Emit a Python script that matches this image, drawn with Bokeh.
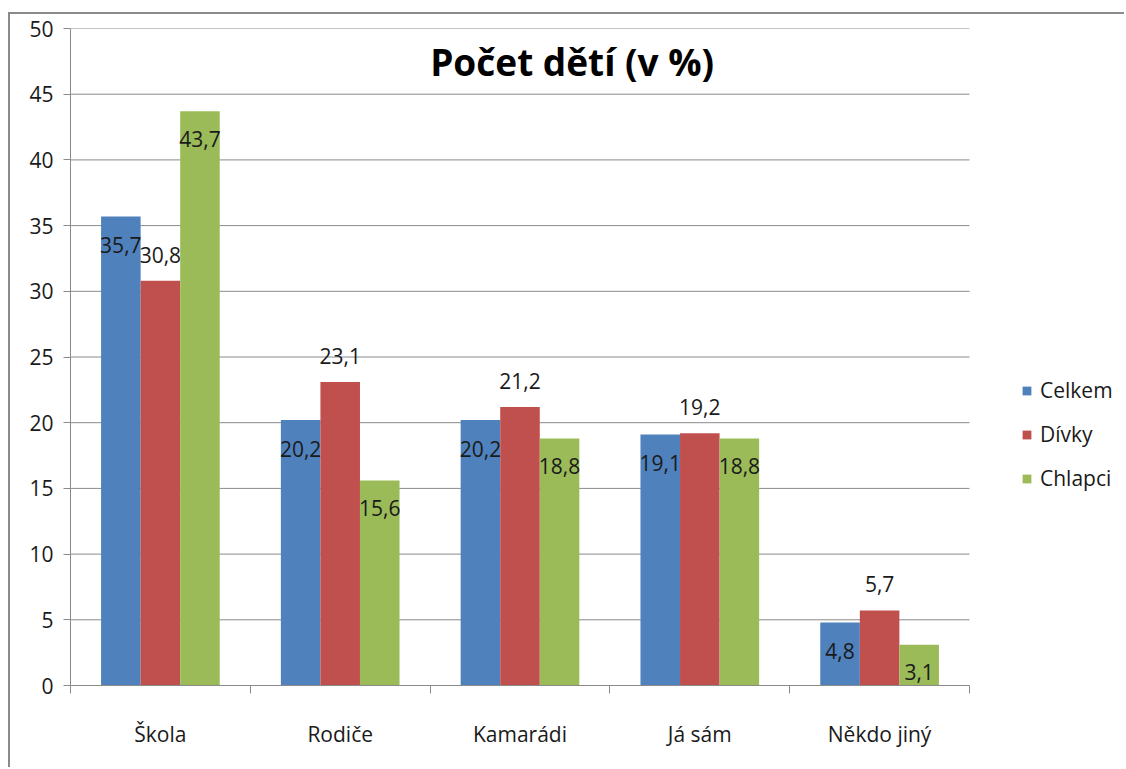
from bokeh.plotting import figure
from bokeh.models import Range1d, FixedTicker, Legend, LegendItem, Label, ColumnDataSource, CustomJSTickFormatter
from bokeh.transform import dodge
from bokeh.core.properties import value
from bokeh.embed import file_html
from bokeh.resources import INLINE

categories = ["Škola", "Rodiče", "Kamarádi", "Já sám", "Někdo jiný"]
celkem = [35.7, 20.2, 20.2, 19.1, 4.8]
divky = [30.8, 23.1, 21.2, 19.2, 5.7]
chlapci = [43.7, 15.6, 18.8, 18.8, 3.1]
series_names = ["Celkem", "Dívky", "Chlapci"]
colors = ["#4F81BD", "#C0504D", "#9BBB59"]
y_ticks = [0, 5, 10, 15, 20, 25, 30, 35, 40, 45, 50]

FONT = "Open Sans"
FS = "21px"
GRID = "#8a8a8a"

def fmt(v):
    return f"{v:.1f}".replace(".", ",")

n = len(categories)
xc = [i + 0.5 for i in range(n)]
src = ColumnDataSource(dict(
    x=xc, cat=categories,
    celkem=celkem, divky=divky, chlapci=chlapci,
    celkem_t=[fmt(v) for v in celkem],
    divky_t=[fmt(v) for v in divky],
    chlapci_t=[fmt(v) for v in chlapci],
))

FIG_W = 1116
LEFT = 60
PLOT_W = 899            # pixel width of the category area
frame_w = FIG_W - LEFT  # frame extends into legend area
x_end = n * frame_w / PLOT_W

p = figure(width=FIG_W, height=755, output_backend="svg", toolbar_location=None,
           x_range=Range1d(0, x_end), y_range=Range1d(0, 50),
           min_border_left=LEFT, min_border_right=0, min_border_top=14, min_border_bottom=84)
p.outline_line_color = None
p.background_fill_color = "white"
p.border_fill_color = "white"
p.styles = {"border-left": "2px solid #8a8a8a", "border-top": "2px solid #8a8a8a",
            "margin-left": "8px", "margin-top": "12px"}

# horizontal gridlines limited to the category area
p.xgrid.grid_line_color = None
p.ygrid.grid_line_color = None
p.segment(x0=[0] * len(y_ticks), x1=[n] * len(y_ticks), y0=y_ticks, y1=y_ticks,
          line_color=GRID, line_width=1, level="underlay")

# y axis
p.yaxis.ticker = FixedTicker(ticks=y_ticks)
p.yaxis.axis_line_color = GRID
p.yaxis.major_tick_line_color = GRID
p.yaxis.major_tick_out = 7
p.yaxis.major_tick_in = 0
p.yaxis.minor_tick_line_color = None
p.yaxis.major_label_text_font = FONT
p.yaxis.major_label_text_font_size = FS
p.yaxis.major_label_text_color = "#1a1a1a"
p.yaxis.major_label_standoff = 10

# x axis: labels at category centres, ticks at category boundaries
p.xaxis.bounds = (0, n)
p.xaxis.ticker = FixedTicker(ticks=xc, minor_ticks=list(range(n + 1)))
labels_js = {str(x): c for x, c in zip(xc, categories)}
p.xaxis.formatter = CustomJSTickFormatter(args=dict(labs=labels_js), code="return labs[String(tick)] || '';")
p.xaxis.axis_line_color = GRID
p.xaxis.major_tick_line_color = None
p.xaxis.major_tick_out = 0
p.xaxis.major_tick_in = 0
p.xaxis.minor_tick_line_color = GRID
p.xaxis.minor_tick_out = 8
p.xaxis.minor_tick_in = 0
p.xaxis.major_label_text_font = FONT
p.xaxis.major_label_text_font_size = FS
p.xaxis.major_label_text_color = "#1a1a1a"
p.xaxis.major_label_standoff = 26

W = 0.22
offsets = [-W, 0, W]
fields = ["celkem", "divky", "chlapci"]
label_off = [-2.2, 2.0, -2.1]
renderers = []
for f, off, col, loff in zip(fields, offsets, colors, label_off):
    r = p.vbar(x=dodge("x", off), top=f, width=W, source=src, fill_color=col, line_color=None)
    renderers.append(r)
    p.text(x=dodge("x", off), y=dodge(f, loff), text=f + "_t", source=src,
           text_align="center", text_baseline="middle",
           text_font=value(FONT), text_font_size=FS, text_color="#1a1a1a")

legend = Legend(items=[LegendItem(label=s, renderers=[r]) for s, r in zip(series_names, renderers)],
                location=(951, 193))
legend.border_line_color = None
legend.background_fill_alpha = 0
legend.padding = 0
legend.margin = 0
legend.glyph_width = 11
legend.glyph_height = 11
legend.label_height = 24
legend.spacing = 16
legend.label_standoff = 8
legend.label_text_font = FONT
legend.label_text_font_size = FS
legend.label_text_color = "#1a1a1a"
p.add_layout(legend)

title = Label(x=2.79, y=47.5, text="Počet dětí (v %)", text_align="center", text_baseline="middle",
              text_font=FONT, text_font_size="37px", text_font_style="bold", text_color="#000000")
p.add_layout(title)

open("out.html", "w").write(file_html(p, INLINE))
